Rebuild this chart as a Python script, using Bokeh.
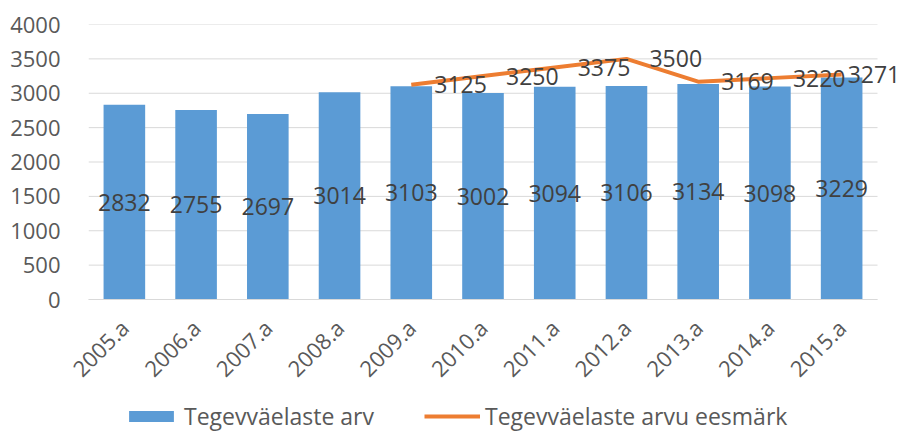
from bokeh.plotting import figure
from bokeh.models import ColumnDataSource, LabelSet, Legend, LegendItem, FixedTicker, Range1d
from bokeh.layouts import column
from bokeh.core.properties import value
from bokeh.embed import file_html
from bokeh.resources import INLINE
from math import pi

years = ["2005.a", "2006.a", "2007.a", "2008.a", "2009.a", "2010.a",
         "2011.a", "2012.a", "2013.a", "2014.a", "2015.a"]
actual = [2832, 2755, 2697, 3014, 3103, 3002, 3094, 3106, 3134, 3098, 3229]
target_years = ["2009.a", "2010.a", "2011.a", "2012.a", "2013.a", "2014.a", "2015.a"]
target = [3125, 3250, 3375, 3500, 3169, 3220, 3271]
y_ticks = [0, 500, 1000, 1500, 2000, 2500, 3000, 3500, 4000]

FONT = "Open Sans"
GRAY = "#595959"
DARK = "#404040"
BLUE = "#5B9BD5"
ORANGE = "#ED7D31"

n = len(years)
xi = list(range(n))
txi = [years.index(y) for y in target_years]

# layout (pixels)
W = 902
LEFT, TOP, FRAME_H, BOTTOM = 88, 24, 275, 102
LEG_H = 31
CAT_PX = 789 / n                       # width of one category in pixels
x_end = -0.5 + (W - LEFT) / CAT_PX     # let the frame run to the right edge

bar_src = ColumnDataSource(dict(x=xi, y=actual, ymid=[v / 2 for v in actual],
                                lab=[str(v) for v in actual]))
lab_dx = [23] * (len(target) - 1) + [6]
line_src = ColumnDataSource(dict(x=txi, y=target, lab=[str(v) for v in target], dx=lab_dx))
grid_src = ColumnDataSource(dict(y=y_ticks, x0=[-0.5] * len(y_ticks),
                                 x1=[n - 0.5] * len(y_ticks)))

p = figure(x_range=Range1d(-0.5, x_end), y_range=Range1d(0, 4000),
           width=W, height=TOP + FRAME_H + BOTTOM,
           output_backend="svg", toolbar_location=None,
           min_border_left=LEFT, min_border_right=0, min_border_top=TOP,
           min_border_bottom=BOTTOM)
p.outline_line_color = None
p.xgrid.grid_line_color = None
p.ygrid.grid_line_color = None

p.segment(x0="x0", x1="x1", y0="y", y1="y", source=grid_src, line_color="#d9d9d9", line_width=1)
p.vbar(x="x", top="y", width=0.58, source=bar_src, fill_color=BLUE, line_color=None)
p.line(x="x", y="y", source=line_src, line_color=ORANGE, line_width=4)

p.add_layout(LabelSet(x="x", y="ymid", text="lab", source=bar_src, text_align="center",
                      text_baseline="middle", text_font=value(FONT), text_font_size="23px",
                      text_color=DARK))
p.add_layout(LabelSet(x="x", y="y", text="lab", source=line_src, text_align="left",
                      text_baseline="middle", x_offset="dx", text_font=value(FONT),
                      text_font_size="23px", text_color=DARK))

p.yaxis.ticker = FixedTicker(ticks=y_ticks)
p.yaxis.axis_line_color = None
p.yaxis.major_tick_line_color = None
p.yaxis.minor_tick_line_color = None
p.yaxis.major_label_text_font = FONT
p.yaxis.major_label_text_font_size = "22px"
p.yaxis.major_label_text_color = GRAY
p.yaxis.major_label_standoff = 22

p.xaxis.ticker = FixedTicker(ticks=xi)
p.xaxis.major_label_overrides = {i: y for i, y in zip(xi, years)}
p.xaxis.bounds = (-0.5, n - 0.5)
p.xaxis.axis_line_color = "#d9d9d9"
p.xaxis.major_tick_line_color = None
p.xaxis.minor_tick_line_color = None
p.xaxis.major_label_orientation = pi / 4
p.xaxis.major_label_text_font = FONT
p.xaxis.major_label_text_font_size = "22px"
p.xaxis.major_label_text_color = GRAY
p.xaxis.major_label_standoff = 18

# legend strip: hidden renderers sharing the chart data, shown only as legend samples
p2 = figure(width=W, height=LEG_H, x_axis_type=None, y_axis_type=None,
            output_backend="svg", toolbar_location=None,
            min_border=0, x_range=Range1d(100, 101), y_range=Range1d(-101, -100))
p2.outline_line_color = None
p2.xgrid.grid_line_color = None
p2.ygrid.grid_line_color = None
r_bar = p2.vbar(x="x", top="y", width=0.58, source=bar_src, fill_color=BLUE, line_color=None,
                visible=False)
r_line = p2.line(x="x", y="y", source=line_src, line_color=ORANGE, line_width=4,
                 visible=False)
legend = Legend(items=[LegendItem(label="Tegevväelaste arv", renderers=[r_bar]),
                       LegendItem(label="Tegevväelaste arvu eesmärk", renderers=[r_line])],
                orientation="horizontal", location=(123 - LEFT, 0),
                label_text_font=FONT, label_text_font_size="23px", label_text_color=GRAY,
                glyph_width=56, glyph_height=14, spacing=50, padding=0, margin=0,
                label_standoff=5, border_line_color=None, background_fill_alpha=0,
                inactive_fill_alpha=0)
p2.add_layout(legend, "center")

open("out.html", "w").write(file_html(column(p, p2, spacing=0), INLINE))
